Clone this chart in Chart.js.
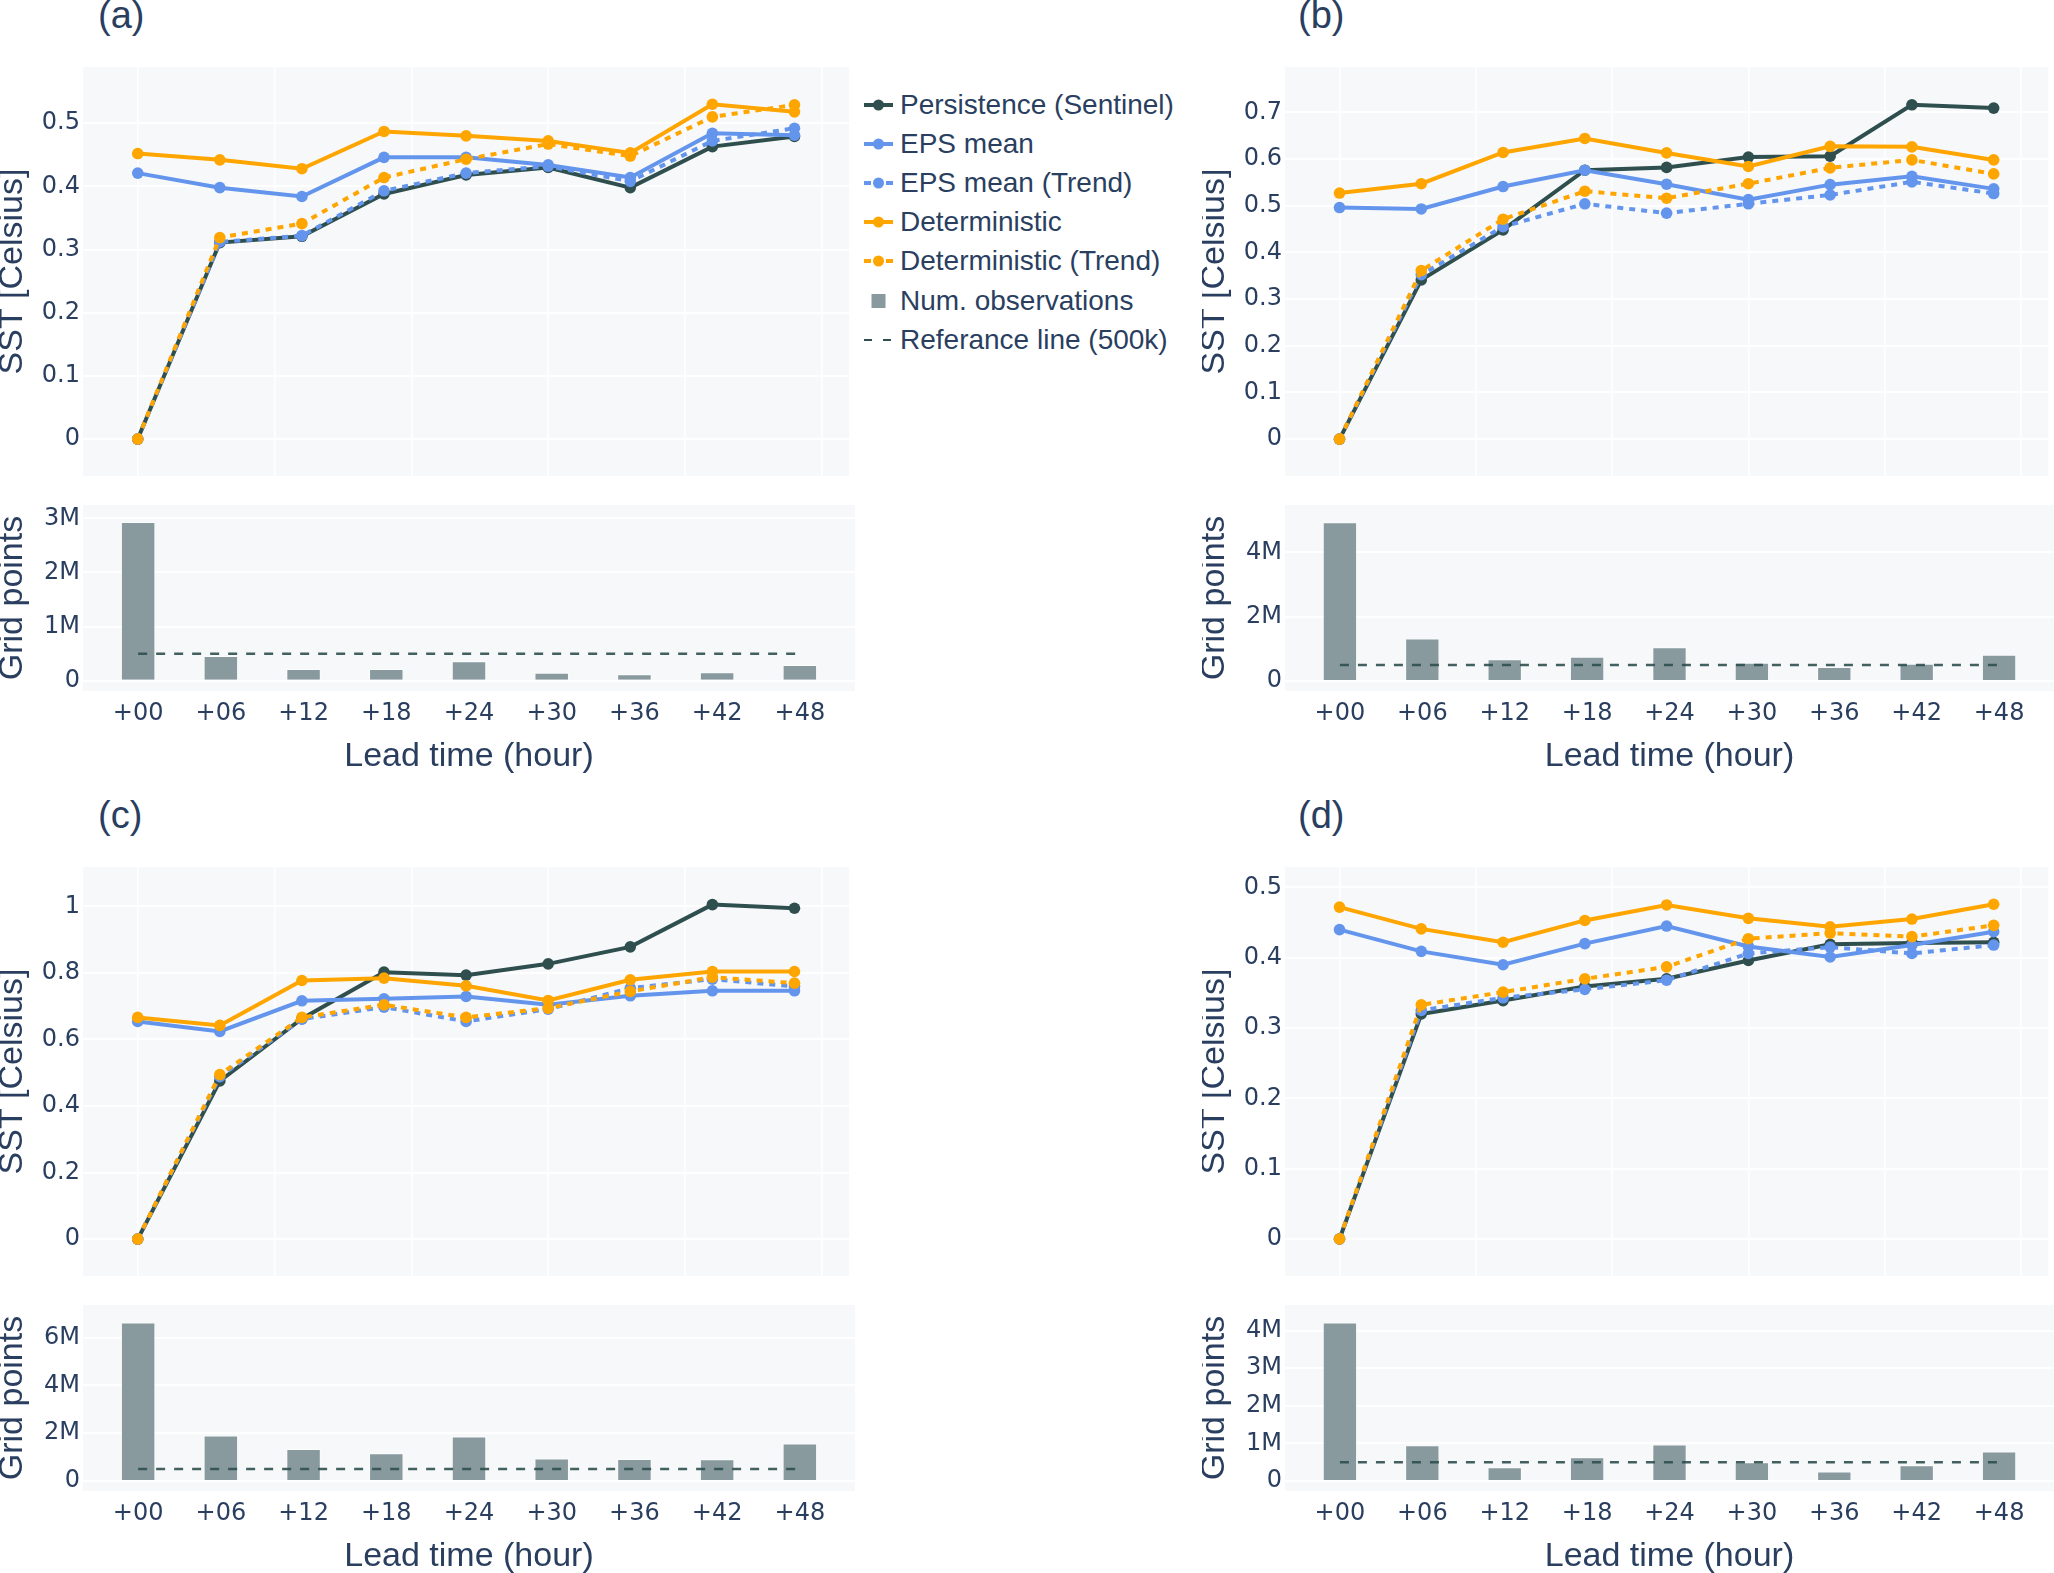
<!DOCTYPE html>
<html>
<head>
<meta charset="utf-8">
<title>SST error vs lead time</title>
<script src="https://cdn.jsdelivr.net/npm/chart.js@4.4.1/dist/chart.umd.min.js"></script>
<style>
  body { margin: 0; background: #fff; overflow: hidden; font-family: "Liberation Sans", Arial, sans-serif; color: #2a3f5f; }
  #page { position: relative; width: 2054px; height: 1573px; }
  canvas { position: absolute; }
  .panel-label { position: absolute; font-size: 38px; line-height: 38px; }
  #legend { position: absolute; left: 862px; top: 85px; font-size: 28px; }
  .item { display: flex; align-items: center; height: 39.2px; white-space: nowrap; }
  .item svg { width: 32px; height: 20px; margin-right: 6px; flex: none; }
</style>
</head>
<body>
<div id="page">
  <div class="panel-label" style="left:98px;top:-4px">(a)</div>
  <div class="panel-label" style="left:1298px;top:-4px">(b)</div>
  <div class="panel-label" style="left:98px;top:796px">(c)</div>
  <div class="panel-label" style="left:1298px;top:796px">(d)</div>

  <div id="legend">
    <div class="item"><svg viewBox="0 0 32 20"><line x1="2" y1="10" x2="31" y2="10" stroke="#2f4f4f" stroke-width="4"/><circle cx="16.5" cy="10" r="5.5" fill="#2f4f4f"/></svg>Persistence (Sentinel)</div>
    <div class="item"><svg viewBox="0 0 32 20"><line x1="2" y1="10" x2="31" y2="10" stroke="#6495ed" stroke-width="4"/><circle cx="16.5" cy="10" r="5.5" fill="#6495ed"/></svg>EPS mean</div>
    <div class="item"><svg viewBox="0 0 32 20"><line x1="2" y1="10" x2="31" y2="10" stroke="#6495ed" stroke-width="4" stroke-dasharray="7,4"/><circle cx="16.5" cy="10" r="5.5" fill="#6495ed"/></svg>EPS mean (Trend)</div>
    <div class="item"><svg viewBox="0 0 32 20"><line x1="2" y1="10" x2="31" y2="10" stroke="#ffa500" stroke-width="4"/><circle cx="16.5" cy="10" r="5.5" fill="#ffa500"/></svg>Deterministic</div>
    <div class="item"><svg viewBox="0 0 32 20"><line x1="2" y1="10" x2="31" y2="10" stroke="#ffa500" stroke-width="4" stroke-dasharray="7,4"/><circle cx="16.5" cy="10" r="5.5" fill="#ffa500"/></svg>Deterministic (Trend)</div>
    <div class="item"><svg viewBox="0 0 32 20"><rect x="9.5" y="3" width="14" height="14" fill="#889a9e"/></svg>Num. observations</div>
    <div class="item"><svg viewBox="0 0 32 20"><line x1="2" y1="10" x2="31" y2="10" stroke="#2f4f4f" stroke-width="2" stroke-dasharray="8,11"/></svg>Referance line (500k)</div>
  </div>
</div>

<script>
// lead times (hours) and their labels
const leadHours = [0, 6, 12, 18, 24, 30, 36, 42, 48];
const leadLabels = ["+00", "+06", "+12", "+18", "+24", "+30", "+36", "+42", "+48"];
const gridHours = [0, 10, 20, 30, 40, 50];
const refLine = 500000;

// (a)
const persistA = [0, 0.311, 0.321, 0.388, 0.418, 0.430, 0.398, 0.463, 0.479];
const epsA = [0.421, 0.398, 0.384, 0.446, 0.446, 0.434, 0.414, 0.484, 0.481];
const epsTrendA = [0, 0.312, 0.322, 0.393, 0.421, 0.432, 0.408, 0.472, 0.492];
const detA = [0.452, 0.442, 0.428, 0.487, 0.480, 0.472, 0.453, 0.530, 0.518];
const detTrendA = [0, 0.319, 0.341, 0.414, 0.443, 0.467, 0.448, 0.510, 0.529];
const obsA = [2930000, 456000, 216000, 216000, 358000, 148000, 118000, 155000, 290000];

// (b)
const persistB = [0, 0.341, 0.448, 0.576, 0.582, 0.604, 0.606, 0.716, 0.709];
const epsB = [0.496, 0.493, 0.541, 0.576, 0.546, 0.513, 0.545, 0.563, 0.536];
const epsTrendB = [0, 0.352, 0.455, 0.504, 0.484, 0.504, 0.523, 0.551, 0.526];
const detB = [0.527, 0.547, 0.614, 0.644, 0.613, 0.584, 0.627, 0.626, 0.598];
const detTrendB = [0, 0.361, 0.471, 0.531, 0.516, 0.547, 0.581, 0.598, 0.568];
const obsB = [4935000, 1320000, 675000, 758000, 1049000, 571000, 436000, 540000, 821000];

// (c)
const persistC = [0, 0.475, 0.662, 0.802, 0.793, 0.827, 0.878, 1.005, 0.994];
const epsC = [0.654, 0.624, 0.716, 0.722, 0.729, 0.704, 0.731, 0.746, 0.746];
const epsTrendC = [0, 0.488, 0.661, 0.697, 0.654, 0.691, 0.754, 0.781, 0.759];
const detC = [0.666, 0.642, 0.777, 0.784, 0.761, 0.717, 0.779, 0.804, 0.804];
const detTrendC = [0, 0.494, 0.666, 0.704, 0.666, 0.694, 0.744, 0.787, 0.769];
const obsC = [6640000, 1900000, 1343000, 1161000, 1860000, 937000, 923000, 909000, 1566000];

// (d)
const persistD = [0, 0.320, 0.339, 0.359, 0.370, 0.396, 0.419, 0.421, 0.422];
const epsD = [0.440, 0.409, 0.390, 0.420, 0.445, 0.416, 0.401, 0.418, 0.437];
const epsTrendD = [0, 0.325, 0.343, 0.355, 0.368, 0.406, 0.415, 0.406, 0.418];
const detD = [0.472, 0.441, 0.422, 0.453, 0.475, 0.456, 0.444, 0.455, 0.476];
const detTrendD = [0, 0.333, 0.351, 0.370, 0.387, 0.427, 0.435, 0.430, 0.446];
const obsD = [4220000, 951000, 364000, 631000, 969000, 498000, 249000, 418000, 782000];

// tick values / labels
const sstTicksA = [0, 0.1, 0.2, 0.3, 0.4, 0.5];
const sstLabelsA = ["0", "0.1", "0.2", "0.3", "0.4", "0.5"];
const sstTicksB = [0, 0.1, 0.2, 0.3, 0.4, 0.5, 0.6, 0.7];
const sstLabelsB = ["0", "0.1", "0.2", "0.3", "0.4", "0.5", "0.6", "0.7"];
const sstTicksC = [0, 0.2, 0.4, 0.6, 0.8, 1];
const sstLabelsC = ["0", "0.2", "0.4", "0.6", "0.8", "1"];
const sstTicksD = [0, 0.1, 0.2, 0.3, 0.4, 0.5];
const sstLabelsD = ["0", "0.1", "0.2", "0.3", "0.4", "0.5"];
const obsTicksA = [0, 1000000, 2000000, 3000000];
const obsLabelsA = ["0", "1M", "2M", "3M"];
const obsTicksB = [0, 2000000, 4000000];
const obsLabelsB = ["0", "2M", "4M"];
const obsTicksC = [0, 2000000, 4000000, 6000000];
const obsLabelsC = ["0", "2M", "4M", "6M"];
const obsTicksD = [0, 1000000, 2000000, 3000000, 4000000];
const obsLabelsD = ["0", "1M", "2M", "3M", "4M"];

const DARK = "#2f4f4f";
const BLUE = "#6495ed";
const ORANGE = "#ffa500";
const BAR_COLOR = "#889a9e";
const TEXT = "#2a3f5f";
const PLOT_BG = "#f7f8fa";
const TICK_FONT = { family: '"DejaVu Sans", Verdana, sans-serif', size: 24 };
const TITLE_FONT = { family: '"Liberation Sans", Arial, sans-serif', size: 34 };

const AXIS_W = 83;
const PAD = 20;
const LINE_H = 409;
const BAR_H = 186;
const X_AXIS_H = 86;

Chart.defaults.font.family = '"Liberation Sans", Arial, sans-serif';
Chart.defaults.color = TEXT;

const panels = [
  { left: 83, top: 67, width: 772, persist: persistA, eps: epsA, epsTrend: epsTrendA, det: detA, detTrend: detTrendA, obs: obsA,
    sstRange: [-0.0585, 0.589], sstTicks: sstTicksA, sstLabels: sstLabelsA, obsRange: [-190000, 3246000], obsTicks: obsTicksA, obsLabels: obsLabelsA },
  { left: 1285, top: 67, width: 769, persist: persistB, eps: epsB, epsTrend: epsTrendB, det: detB, detTrend: detTrendB, obs: obsB,
    sstRange: [-0.079, 0.797], sstTicks: sstTicksB, sstLabels: sstLabelsB, obsRange: [-310000, 5475000], obsTicks: obsTicksB, obsLabels: obsLabelsB },
  { left: 83, top: 867, width: 772, persist: persistC, eps: epsC, epsTrend: epsTrendC, det: detC, detTrend: detTrendC, obs: obsC,
    sstRange: [-0.111, 1.118], sstTicks: sstTicksC, sstLabels: sstLabelsC, obsRange: [-420000, 7370000], obsTicks: obsTicksC, obsLabels: obsLabelsC },
  { left: 1285, top: 867, width: 769, persist: persistD, eps: epsD, epsTrend: epsTrendD, det: detD, detTrend: detTrendD, obs: obsD,
    sstRange: [-0.0527, 0.529], sstTicks: sstTicksD, sstLabels: sstLabelsD, obsRange: [-267000, 4684000], obsTicks: obsTicksD, obsLabels: obsLabelsD }
];

const page = document.getElementById("page");

// fill the plot area like plotly's plot_bgcolor
const plotBg = {
  id: "plotBg",
  beforeDraw(chart) {
    const { ctx, chartArea: a } = chart;
    ctx.save();
    ctx.fillStyle = PLOT_BG;
    ctx.fillRect(a.left, a.top, a.right - a.left, a.bottom - a.top);
    ctx.restore();
  }
};

function toPoints(values) {
  return leadHours.map((h, i) => ({ x: h, y: values[i] }));
}

function fixedTicks(values) {
  return (axis) => { axis.ticks = values.map((v) => ({ value: v })); };
}

function addCanvas(left, top, width, height) {
  const c = document.createElement("canvas");
  c.width = width;
  c.height = height;
  c.style.left = left + "px";
  c.style.top = top + "px";
  c.style.width = width + "px";
  c.style.height = height + "px";
  page.appendChild(c);
  return c.getContext("2d");
}

function lineSet(label, values, color, dashed, order) {
  return {
    label: label,
    data: toPoints(values),
    borderColor: color,
    backgroundColor: color,
    borderWidth: 4,
    borderDash: dashed ? [6, 6] : [],
    pointRadius: 5.8,
    pointBorderWidth: 0,
    pointBackgroundColor: color,
    tension: 0,
    order: order
  };
}

function yAxis(range, ticks, labels, title) {
  return {
    min: range[0],
    max: range[1],
    afterBuildTicks: fixedTicks(ticks),
    afterFit: (s) => { s.width = AXIS_W; },
    ticks: { padding: 3, font: TICK_FONT, callback: (v, i) => labels[i] },
    grid: { color: "#ffffff", lineWidth: 2, drawTicks: false },
    border: { display: false },
    title: { display: true, text: title, font: { ...TITLE_FONT, lineHeight: 0.76 }, padding: 0 }
  };
}

function drawLines(p) {
  const ctx = addCanvas(p.left - AXIS_W, p.top - PAD, AXIS_W + p.width, PAD + LINE_H + PAD);
  new Chart(ctx, {
    type: "line",
    data: {
      datasets: [
        lineSet("Persistence (Sentinel)", p.persist, DARK, false, 4),
        lineSet("EPS mean", p.eps, BLUE, false, 3),
        lineSet("EPS mean (Trend)", p.epsTrend, BLUE, true, 2),
        lineSet("Deterministic", p.det, ORANGE, false, 1),
        lineSet("Deterministic (Trend)", p.detTrend, ORANGE, true, 0)
      ]
    },
    options: {
      responsive: false,
      animation: false,
      layout: { padding: { top: PAD, bottom: PAD, left: 0, right: 0 } },
      plugins: { legend: { display: false }, tooltip: { enabled: false } },
      scales: {
        x: {
          type: "linear",
          min: -4,
          max: 52,
          afterBuildTicks: fixedTicks(gridHours),
          afterFit: (s) => { s.height = 0; },
          ticks: { display: false },
          grid: { color: "#ffffff", lineWidth: 1.5, drawTicks: false },
          border: { display: false }
        },
        y: yAxis(p.sstRange, p.sstTicks, p.sstLabels, "SST [Celsius]")
      }
    },
    plugins: [plotBg]
  });
}

function drawBars(p) {
  const barTop = p.top + 438;
  const ctx = addCanvas(p.left - AXIS_W, barTop - PAD, AXIS_W + p.width, PAD + BAR_H + X_AXIS_H);
  new Chart(ctx, {
    type: "bar",
    data: {
      datasets: [
        {
          type: "line",
          label: "Referance line (500k)",
          data: [{ x: leadHours[0], y: refLine }, { x: leadHours[leadHours.length - 1], y: refLine }],
          borderColor: "rgba(47,79,79,0.9)",
          borderWidth: 2.5,
          borderDash: [9, 9],
          pointRadius: 0,
          order: 0
        },
        {
          type: "bar",
          label: "Num. observations",
          data: toPoints(p.obs),
          backgroundColor: BAR_COLOR,
          borderColor: "rgba(255,255,255,0.5)",
          borderWidth: 1,
          categoryPercentage: 2.5 / 6,
          barPercentage: 1,
          order: 1
        }
      ]
    },
    options: {
      responsive: false,
      animation: false,
      layout: { padding: { top: PAD, bottom: 0, left: 0, right: 0 } },
      plugins: { legend: { display: false }, tooltip: { enabled: false } },
      scales: {
        x: {
          type: "linear",
          offset: false,
          min: -4,
          max: 52,
          afterBuildTicks: fixedTicks(leadHours),
          afterFit: (s) => { s.height = X_AXIS_H; },
          ticks: { padding: 8, font: TICK_FONT, maxRotation: 0, autoSkip: false, callback: (v, i) => leadLabels[i] },
          grid: { display: false, drawTicks: false },
          border: { display: false },
          title: { display: true, text: "Lead time (hour)", font: TITLE_FONT, padding: 0 }
        },
        y: yAxis(p.obsRange, p.obsTicks, p.obsLabels, "Grid points")
      }
    },
    plugins: [plotBg]
  });
}

panels.forEach((p) => {
  drawLines(p);
  drawBars(p);
});
</script>
</body>
</html>
